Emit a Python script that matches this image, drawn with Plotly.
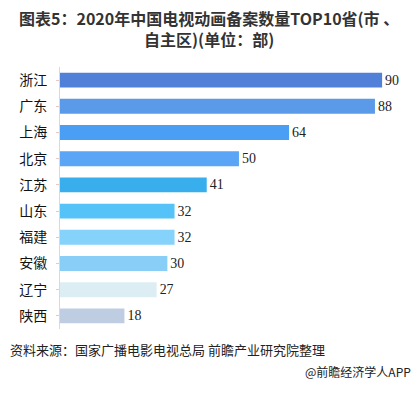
import plotly.graph_objects as go

provinces = ["浙江", "广东", "上海", "北京", "江苏", "山东", "福建", "安徽", "辽宁", "陕西"]
counts = [90, 88, 64, 50, 41, 32, 32, 30, 27, 18]
bar_colors = ["#5080D8", "#5B9AE8", "#4A9FF5", "#5AA5F5", "#39AEEC",
              "#55C2F8", "#85D2FA", "#88CEF6", "#DCEEF4", "#BFCDE3"]

title_text = "图表5：2020年中国电视动画备案数量TOP10省(市 、<br>自主区)(单位：部)"
source_text = "资料来源：国家广播电影电视总局 前瞻产业研究院整理"
credit_text = "@前瞻经济学人APP"

CJK = "Noto Sans CJK SC"
W, H = 417, 397
ML, MR, MT, MB = 60, 17, 67, 68

fig = go.Figure(go.Bar(
    x=counts, y=provinces, orientation="h",
    marker=dict(color=bar_colors, line=dict(width=0)),
    width=0.57,
    text=[str(v) for v in counts], textposition="outside",
    textfont=dict(family="Liberation Serif", size=14, color="#222"),
    cliponaxis=False,
))

fig.update_layout(
    width=W, height=H,
    margin=dict(l=ML, r=MR, t=MT, b=MB, autoexpand=False),
    paper_bgcolor="white", plot_bgcolor="white",
    showlegend=False,
    xaxis=dict(range=[0, 95], visible=False, fixedrange=True, automargin=False),
    yaxis=dict(categoryorder="array", categoryarray=provinces, autorange="reversed",
               automargin=False, fixedrange=True,
               showline=True, linecolor="#D9D9D9", linewidth=1,
               ticks="outside", ticklen=3, tickcolor="#E8C9C0",
               tickfont=dict(family=CJK, size=14, color="#111"),
               ticklabelstandoff=6, showgrid=False),
)

plot_h = H - MT - MB
plot_w = W - ML - MR
def px_to_paper_y(py):
    return (H - MB - py) / plot_h
def px_to_paper_x(px):
    return (px - ML) / plot_w

fig.add_annotation(text=title_text, x=px_to_paper_x(W / 2), y=px_to_paper_y(28.5),
                   xref="paper", yref="paper", xanchor="center", yanchor="middle",
                   showarrow=False, align="center",
                   font=dict(family=CJK, size=16, color="#333", weight="bold"))

fig.add_annotation(text=source_text, x=px_to_paper_x(8), y=px_to_paper_y(349),
                   xref="paper", yref="paper", xanchor="left", yanchor="middle",
                   showarrow=False, font=dict(family=CJK, size=13, color="#222"))
fig.add_annotation(text=credit_text, x=px_to_paper_x(413), y=px_to_paper_y(372),
                   xref="paper", yref="paper", xanchor="right", yanchor="middle",
                   showarrow=False, font=dict(family=CJK, size=12, color="#222"))

fig.write_html("out.html", config={"displayModeBar": False},
               post_script="document.body.style.margin='0';document.body.style.padding='0';")
